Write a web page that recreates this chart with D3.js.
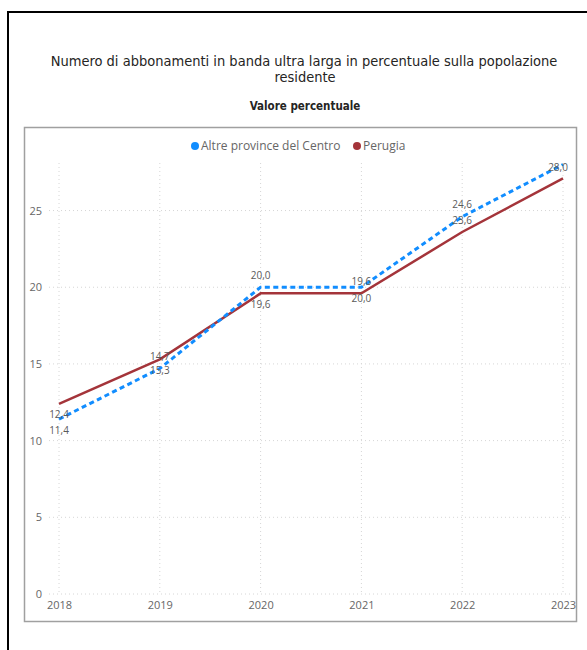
<!DOCTYPE html>
<html>
<head>
<meta charset="utf-8">
<script src="https://cdn.jsdelivr.net/npm/d3@7"></script>
<style>
  html, body { margin: 0; padding: 0; background: #fff; }
  svg { display: block; }
  .title { font-family: "DejaVu Sans Condensed", "DejaVu Sans", sans-serif; font-stretch: condensed; fill: #252423; }
  .ui { font-family: "Open Sans", "Noto Sans", sans-serif; }
</style>
</head>
<body>
<svg id="chart" width="587" height="650"></svg>
<script>
// Broadband subscriptions as a share of resident population (%)
const years = ["2018", "2019", "2020", "2021", "2022", "2023"];
const seriesNames = ["Altre province del Centro", "Perugia"];
const altreProvince = [11.4, 14.7, 20.0, 20.0, 24.6, 28.0];
const perugia = [12.4, 15.3, 19.6, 19.6, 23.6, 27.1];
const yTicks = [0, 5, 10, 15, 20, 25];

// Which side of the line each value label sits on (null = no label)
const altreLabelSide = ["below", "above", "above", "below", "above", "end"];
const perugiaLabelSide = ["below", "below", "below", "above", "above", null];

const colors = { altre: "#118DFF", perugia: "#A4343A" };

const svg = d3.select("#chart");

// Outer frame
svg.append("path")
  .attr("d", "M8,660 L8,12 L600,12")
  .attr("fill", "none").attr("stroke", "#000").attr("stroke-width", 2);

// Titles
svg.append("text").attr("class", "title")
  .attr("x", 304).attr("y", 66).attr("text-anchor", "middle")
  .attr("font-size", 14.5).text("Numero di abbonamenti in banda ultra larga in percentuale sulla popolazione");
svg.append("text").attr("class", "title")
  .attr("x", 305).attr("y", 82).attr("text-anchor", "middle")
  .attr("font-size", 14.5).text("residente");
svg.append("text").attr("class", "title")
  .attr("x", 305).attr("y", 110).attr("text-anchor", "middle")
  .attr("font-size", 11.5).attr("font-weight", "bold").attr("fill", "#3a3a3a").text("Valore percentuale");

// Visual panel
svg.append("rect")
  .attr("x", 24.5).attr("y", 127.5).attr("width", 552).attr("height", 494)
  .attr("fill", "#fff").attr("stroke", "#a0a0a0").attr("stroke-width", 1.5);

// Scales
const x = d3.scalePoint().domain(years).range([59, 563]);
const y = d3.scaleLinear().domain([0, 28.1]).range([594, 163]);

// Gridlines
const grid = svg.append("g");
grid.selectAll("line.h").data(yTicks).join("line")
  .attr("x1", 49).attr("x2", 572)
  .attr("y1", d => y(d)).attr("y2", d => y(d))
  .attr("stroke", "#d6d6d6").attr("stroke-width", 1).attr("stroke-dasharray", "1,3");
grid.selectAll("line.v").data(years).join("line")
  .attr("x1", d => x(d)).attr("x2", d => x(d))
  .attr("y1", y.range()[1]).attr("y2", y(0))
  .attr("stroke", "#d6d6d6").attr("stroke-width", 1).attr("stroke-dasharray", "1,3");

// Axes
const yAxis = svg.append("g").attr("class", "ui")
  .attr("transform", "translate(42,0)")
  .call(d3.axisLeft(y).tickValues(yTicks).tickSize(0).tickPadding(0));
yAxis.select(".domain").remove();
yAxis.selectAll("text").attr("fill", "#666").attr("font-size", 11).attr("font-family", "'Open Sans', sans-serif");

const xAxis = svg.append("g").attr("class", "ui")
  .attr("transform", "translate(0,598)")
  .call(d3.axisBottom(x).tickSize(0).tickPadding(3));
xAxis.select(".domain").remove();
xAxis.selectAll("text").attr("fill", "#666").attr("font-size", 11).attr("font-family", "'Open Sans', sans-serif");

// Lines
const line = d3.line().x((d, i) => x(years[i])).y(d => y(d));
svg.append("path").datum(perugia)
  .attr("d", line).attr("fill", "none")
  .attr("stroke", colors.perugia).attr("stroke-width", 2.5);
svg.append("path").datum(altreProvince)
  .attr("d", line).attr("fill", "none")
  .attr("stroke", colors.altre).attr("stroke-width", 3)
  .attr("stroke-dasharray", "5,3.5");

// Value labels
const fmt = v => d3.format(".1f")(v).replace(".", ",");
function labels(values, sides) {
  svg.append("g").attr("class", "ui")
    .selectAll("text")
    .data(values.map((v, i) => ({ v, i, side: sides[i] })).filter(d => d.side))
    .join("text")
    .attr("x", d => x(years[d.i]) + (d.side === "end" ? -5 : 0))
    .attr("y", d => y(d.v) + (d.side === "above" ? -12 : d.side === "below" ? 11 : 3))
    .attr("dy", "0.35em")
    .attr("text-anchor", "middle")
    .attr("font-size", 10).attr("fill", "#5a5a5a")
    .text(d => fmt(d.v));
}
labels(perugia, perugiaLabelSide);
labels(altreProvince, altreLabelSide);

// Legend
const legendItems = [
  { name: seriesNames[0], color: colors.altre, x: 195 },
  { name: seriesNames[1], color: colors.perugia, x: 357 }
];
const legend = svg.append("g").attr("class", "ui");
legend.selectAll("circle").data(legendItems).join("circle")
  .attr("cx", d => d.x).attr("cy", 146).attr("r", 4).attr("fill", d => d.color);
legend.selectAll("text").data(legendItems).join("text")
  .attr("x", d => d.x + 6).attr("y", 146).attr("dy", "0.35em")
  .attr("font-size", 12).attr("fill", "#666").text(d => d.name);
</script>
</body>
</html>
